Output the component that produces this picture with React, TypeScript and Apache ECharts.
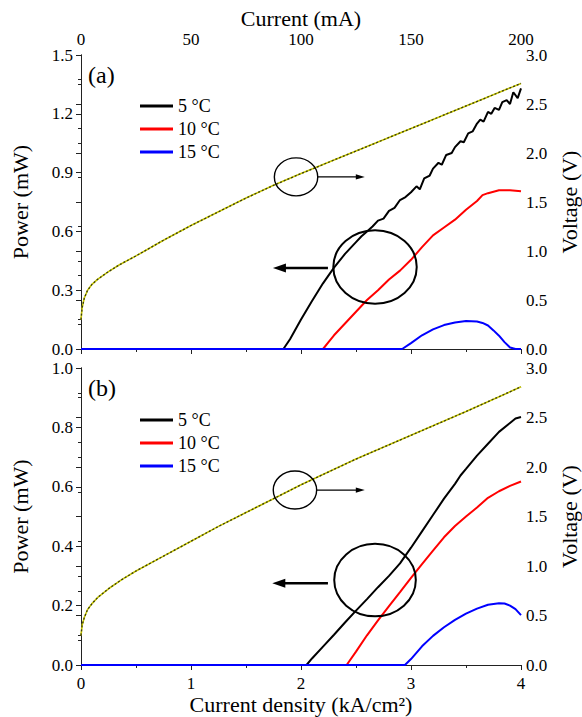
import React, { useEffect, useRef } from "react";
import * as echarts from "echarts";

// ---------- Panel (a) data ----------
const aVoltX = [0, 0.01, 0.03, 0.06, 0.1, 0.15, 0.25, 0.35, 0.5, 0.75, 1.0, 1.25, 1.5, 1.75, 2.0, 2.5, 3.0, 3.5, 4.0];
const aVoltV = [0.3, 0.42, 0.52, 0.6, 0.66, 0.71, 0.79, 0.86, 0.95, 1.11, 1.26, 1.4, 1.54, 1.67, 1.79, 2.02, 2.25, 2.48, 2.71];

const a5X = [0, 1.84, 1.9, 2.0, 2.1, 2.2, 2.3, 2.4, 2.5, 2.55, 2.6, 2.65, 2.7, 2.75, 2.8, 2.85, 2.9, 2.95, 3.0, 3.05, 3.08, 3.12, 3.17, 3.2, 3.25, 3.28, 3.32, 3.37, 3.4, 3.45, 3.48, 3.52, 3.56, 3.6, 3.63, 3.66, 3.7, 3.73, 3.76, 3.8, 3.83, 3.87, 3.9, 3.93, 3.97, 4.0];
const a5P = [0, 0, 0.05, 0.15, 0.245, 0.335, 0.415, 0.485, 0.545, 0.575, 0.6, 0.625, 0.655, 0.665, 0.705, 0.72, 0.76, 0.775, 0.8, 0.83, 0.815, 0.87, 0.885, 0.92, 0.95, 0.94, 0.99, 1.0, 1.03, 1.06, 1.055, 1.1, 1.11, 1.15, 1.17, 1.16, 1.21, 1.2, 1.23, 1.22, 1.26, 1.27, 1.25, 1.31, 1.28, 1.33];

const a10X = [0, 2.2, 2.25, 2.3, 2.4, 2.5, 2.6, 2.7, 2.8, 2.9, 3.0, 3.1, 3.2, 3.3, 3.4, 3.5, 3.6, 3.65, 3.7, 3.8, 3.9, 4.0];
const a10P = [0, 0, 0.035, 0.07, 0.13, 0.19, 0.25, 0.3, 0.355, 0.4, 0.455, 0.52, 0.58, 0.62, 0.66, 0.71, 0.755, 0.785, 0.795, 0.81, 0.81, 0.805];

const a15X = [0, 2.92, 3.0, 3.1, 3.2, 3.3, 3.4, 3.5, 3.6, 3.65, 3.7, 3.75, 3.8, 3.85, 3.9, 3.95, 4.0];
const a15P = [0, 0, 0.03, 0.07, 0.1, 0.122, 0.135, 0.143, 0.14, 0.133, 0.12, 0.095, 0.068, 0.035, 0.008, 0, 0];

// ---------- Panel (b) data ----------
const bVoltX = [0, 0.01, 0.03, 0.06, 0.1, 0.15, 0.25, 0.367, 0.5, 0.75, 1.0, 1.25, 1.5, 1.75, 2.0, 2.5, 3.0, 3.5, 4.0];
const bVoltV = [0.3, 0.4, 0.48, 0.56, 0.62, 0.68, 0.77, 0.86, 0.95, 1.1, 1.25, 1.4, 1.54, 1.68, 1.82, 2.08, 2.32, 2.56, 2.81];

const b5X = [0, 2.05, 2.1, 2.2, 2.3, 2.4, 2.5, 2.6, 2.7, 2.8, 2.9, 3.0, 3.1, 3.2, 3.3, 3.4, 3.45, 3.5, 3.6, 3.7, 3.8, 3.9, 3.95, 4.0];
const b5P = [0, 0, 0.022, 0.062, 0.102, 0.143, 0.183, 0.222, 0.262, 0.3, 0.342, 0.395, 0.45, 0.505, 0.56, 0.61, 0.638, 0.66, 0.705, 0.745, 0.785, 0.815, 0.83, 0.835];

const b10X = [0, 2.415, 2.5, 2.6, 2.7, 2.8, 2.9, 3.0, 3.1, 3.2, 3.3, 3.4, 3.5, 3.6, 3.7, 3.8, 3.9, 4.0];
const b10P = [0, 0, 0.045, 0.1, 0.15, 0.198, 0.245, 0.293, 0.34, 0.385, 0.43, 0.468, 0.5, 0.53, 0.563, 0.585, 0.603, 0.618];

const b15X = [0, 2.945, 3.0, 3.1, 3.2, 3.3, 3.4, 3.5, 3.6, 3.7, 3.8, 3.85, 3.9, 3.95, 4.0];
const b15P = [0, 0, 0.02, 0.063, 0.098, 0.127, 0.152, 0.173, 0.19, 0.203, 0.208, 0.207, 0.2, 0.188, 0.168];

// ---------- Names / labels ----------
const seriesNames = ["5 °C", "10 °C", "15 °C"];
const seriesColors = ["#000000", "#ff0000", "#0000ff"];
const panelLabels = ["(a)", "(b)"];
const xTitle = "Current density (kA/cm²)";
const topTitle = "Current (mA)";
const leftTitle = "Power (mW)";
const rightTitle = "Voltage (V)";

const FONT = "'Liberation Serif', 'Times New Roman', serif";

const zip = (xs: number[], ys: number[]) => xs.map((x, i) => [x, ys[i]]);

export default function App() {
  const ref = useRef<HTMLDivElement>(null);
  useEffect(() => {
    if (!ref.current) return;
    const chart = echarts.init(ref.current, undefined, { renderer: "svg" });

    const axisLine = { lineStyle: { color: "#222", width: 1 } };
    const lbl = { fontFamily: FONT, fontSize: 17, color: "#000" };
    const nameStyle = { fontFamily: FONT, fontSize: 22, color: "#000" };
    const fmt1 = (v: number) => v.toFixed(1);

    const grids = [
      { left: 81, top: 55, width: 440, height: 294, outerBoundsMode: "none", containLabel: false },
      { left: 81, top: 368, width: 440, height: 297, outerBoundsMode: "none", containLabel: false },
    ];

    const xAxes: any[] = [
      { gridIndex: 0, type: "value", position: "bottom", min: 0, max: 4, interval: 1, axisLine, axisLabel: { show: false }, axisTick: { length: 5 }, minorTick: { show: true, splitNumber: 2, length: 3 }, splitLine: { show: false } },
      { gridIndex: 0, type: "value", position: "top", min: 0, max: 200, interval: 50, axisLine, axisLabel: { ...lbl, margin: 7 }, axisTick: { inside: true, length: 5 }, minorTick: { show: true, splitNumber: 2, length: 3 }, splitLine: { show: false }, name: topTitle, nameLocation: "middle", nameGap: 26, nameTextStyle: nameStyle },
      { gridIndex: 1, type: "value", position: "bottom", min: 0, max: 4, interval: 1, axisLine, axisLabel: { ...lbl, margin: 10 }, axisTick: { length: 5 }, minorTick: { show: true, splitNumber: 2, length: 3 }, splitLine: { show: false }, name: xTitle, nameLocation: "middle", nameGap: 28, nameTextStyle: nameStyle },
      { gridIndex: 1, type: "value", position: "top", min: 0, max: 4, interval: 1, axisLine, axisLabel: { show: false }, axisTick: { show: false }, splitLine: { show: false } },
    ];

    const yAxes: any[] = [
      { gridIndex: 0, type: "value", position: "left", min: 0, max: 1.5, interval: 0.3, axisLine, axisLabel: { ...lbl, margin: 8, formatter: fmt1 }, axisTick: { show: true, length: 5 }, minorTick: { show: true, splitNumber: 2, length: 3 }, splitLine: { show: false }, name: leftTitle, nameLocation: "middle", nameGap: 50, nameTextStyle: nameStyle },
      { gridIndex: 0, type: "value", position: "right", min: 0, max: 3, interval: 0.5, axisLine, axisLabel: { ...lbl, margin: 5, formatter: fmt1 }, axisTick: { show: true, inside: true, length: 5 }, minorTick: { show: true, splitNumber: 2, length: 3 }, splitLine: { show: false }, name: rightTitle, nameLocation: "middle", nameGap: 33, nameRotate: 90, nameTextStyle: nameStyle },
      { gridIndex: 1, type: "value", position: "left", min: 0, max: 1.0, interval: 0.2, axisLine, axisLabel: { ...lbl, margin: 8, formatter: fmt1 }, axisTick: { show: true, length: 5 }, minorTick: { show: true, splitNumber: 2, length: 3 }, splitLine: { show: false }, name: leftTitle, nameLocation: "middle", nameGap: 50, nameTextStyle: nameStyle },
      { gridIndex: 1, type: "value", position: "right", min: 0, max: 3, interval: 0.5, axisLine, axisLabel: { ...lbl, margin: 5, formatter: fmt1 }, axisTick: { show: true, inside: true, length: 5 }, minorTick: { show: true, splitNumber: 2, length: 3 }, splitLine: { show: false }, name: rightTitle, nameLocation: "middle", nameGap: 33, nameRotate: 90, nameTextStyle: nameStyle },
    ];

    const line = (name: string, data: number[][], color: string, xi: number, yi: number, extra: any = {}) => ({
      name,
      type: "line",
      xAxisIndex: xi,
      yAxisIndex: yi,
      data,
      showSymbol: false,
      symbol: "none",
      lineStyle: { color, width: 2, ...(extra.lineStyle || {}) },
      itemStyle: { color },
      z: extra.z ?? 3,
      silent: true,
    });

    const powerA = [zip(a5X, a5P), zip(a10X, a10P), zip(a15X, a15P)];
    const powerB = [zip(b5X, b5P), zip(b10X, b10P), zip(b15X, b15P)];

    const series: any[] = [
      line("voltA", zip(aVoltX, aVoltV), "#c8c800", 0, 1, { lineStyle: { width: 1.6 }, z: 2 }),
      line("voltA2", zip(aVoltX, aVoltV), "#3a3a10", 0, 1, { lineStyle: { width: 1.3, type: [2, 2] }, z: 2 }),
      line("voltB", zip(bVoltX, bVoltV), "#c8c800", 2, 3, { lineStyle: { width: 1.6 }, z: 2 }),
      line("voltB2", zip(bVoltX, bVoltV), "#3a3a10", 2, 3, { lineStyle: { width: 1.3, type: [2, 2] }, z: 2 }),
    ];
    seriesNames.forEach((n, i) => series.push(line(n, powerA[i], seriesColors[i], 0, 0)));
    seriesNames.forEach((n, i) => series.push(line(n, powerB[i], seriesColors[i], 2, 2)));

    const legendBase = {
      orient: "vertical",
      left: 135,
      data: seriesNames,
      icon: "rect",
      itemWidth: 33,
      itemHeight: 3,
      itemGap: 5,
      selectedMode: false,
      textStyle: { fontFamily: FONT, fontSize: 18, color: "#000", lineHeight: 18 },
    };

    chart.setOption({
      animation: false,
      backgroundColor: "#fff",
      textStyle: { fontFamily: FONT },
      grid: grids,
      xAxis: xAxes,
      yAxis: yAxes,
      legend: [
        { ...legendBase, top: 92 },
        { ...legendBase, top: 406 },
      ],
      series,
    });

    // annotations (circles + arrows), placed in data coordinates
    const toPx = (panel: number, pt: number[]) =>
      chart.convertToPixel({ xAxisIndex: panel === 0 ? 0 : 2, yAxisIndex: panel === 0 ? 0 : 2 }, pt) as number[];

    const annotations = [
      { panel: 0, small: [1.955, 0.878], smallEnd: 2.58, big: [2.673, 0.418], bigFrom: 2.245, bigTo: 1.745, bigY: 0.413, rb: [41.7, 36.7] },
      { panel: 1, small: [1.945, 0.589], smallEnd: 2.58, big: [2.673, 0.286], bigFrom: 2.245, bigTo: 1.739, bigY: 0.275, rb: [40.8, 36.2] },
    ];

    const graphic: any[] = [];
    annotations.forEach((a, idx) => {
      const sc = toPx(a.panel, a.small);
      const se = toPx(a.panel, [a.smallEnd, a.small[1]]);
      const rxs = 21.7, rys = 19;
      graphic.push({ type: "ellipse", shape: { cx: sc[0], cy: sc[1], rx: rxs, ry: rys }, style: { fill: "none", stroke: "#000", lineWidth: 1.4 }, z: 10 });
      graphic.push({ type: "line", shape: { x1: sc[0] + rxs, y1: sc[1], x2: se[0] - 6, y2: sc[1] }, style: { stroke: "#000", lineWidth: 1.2 }, z: 10 });
      graphic.push({ type: "polygon", shape: { points: [[se[0], sc[1]], [se[0] - 9, sc[1] - 2.6], [se[0] - 9, sc[1] + 2.6]] }, style: { fill: "#000" }, z: 10 });

      const bc = toPx(a.panel, a.big);
      const bf = toPx(a.panel, [a.bigFrom, a.bigY]);
      const bt = toPx(a.panel, [a.bigTo, a.bigY]);
      graphic.push({ type: "ellipse", shape: { cx: bc[0], cy: bc[1], rx: a.rb[0], ry: a.rb[1] }, style: { fill: "none", stroke: "#000", lineWidth: 2 }, z: 10 });
      graphic.push({ type: "line", shape: { x1: bf[0], y1: bf[1], x2: bt[0] + 8, y2: bf[1] }, style: { stroke: "#000", lineWidth: 2.5 }, z: 10 });
      graphic.push({ type: "polygon", shape: { points: [[bt[0], bf[1]], [bt[0] + 13, bf[1] - 4.5], [bt[0] + 13, bf[1] + 4.5]] }, style: { fill: "#000" }, z: 10 });

      const corner = toPx(a.panel, [0, a.panel === 0 ? 1.5 : 1.0]);
      graphic.push({ type: "text", x: corner[0] + 7, y: corner[1] + 8, style: { text: panelLabels[idx], fontFamily: FONT, fontSize: 24, fill: "#000" }, z: 10 });
    });

    chart.setOption({ graphic });

    return () => chart.dispose();
  }, []);

  return <div ref={ref} style={{ width: 582, height: 717, position: "absolute", left: 0, top: 0 }} />;
}
